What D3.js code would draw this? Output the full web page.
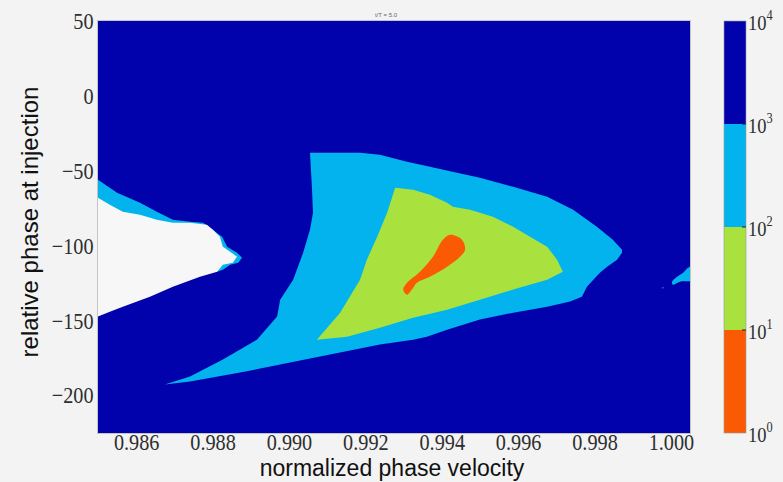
<!DOCTYPE html>
<html>
<head>
<meta charset="utf-8">
<script src="https://cdn.jsdelivr.net/npm/d3@7"></script>
<style>
  html, body { margin: 0; padding: 0; background: #f3f3f3; }
  svg { display: block; }
</style>
</head>
<body>
<svg id="chart" width="783" height="482"></svg>
<script>
// Axis ticks
const velocityTicks = [0.986, 0.988, 0.990, 0.992, 0.994, 0.996, 0.998, 1.000];
const phaseTicks = [50, 0, -50, -100, -150, -200];

// Colour levels of the filled contours (log scale)
const levels = [1, 10, 100, 1000, 10000];
const levelColors = ["#fb5a05", "#a9e23f", "#02b3ee", "#0202ad"];
const levelExponents = [0, 1, 2, 3, 4];

// Contour outlines, [normalized phase velocity, relative phase]
// 10^2..10^3 band (main lobe)
const band1000 = [
  [0.99055,-38],[0.99186,-38],[0.99238,-39.3],[0.99309,-44],[0.99369,-47.3],[0.9944,-51.3],
  [0.995,-54.7],[0.99587,-60.7],[0.99676,-67.3],[0.99744,-76],[0.99806,-87.3],[0.99848,-96],
  [0.99872,-102.7],[0.99872,-104.7],[0.99859,-109.3],[0.99833,-114],[0.99814,-118],
  [0.9978,-127.3],[0.99767,-134],[0.99736,-137.3],[0.99676,-140.7],[0.99587,-144.7],
  [0.995,-149.3],[0.99414,-156],[0.99361,-160.7],[0.99325,-162.7],[0.99238,-166],
  [0.99003,-178],[0.98872,-184.7],[0.98741,-190.7],[0.98675,-192.7],
  [0.98741,-187.3],[0.98827,-176],[0.98916,-162.7],[0.98969,-147.3],[0.98977,-136],
  [0.99011,-122.7],[0.99037,-104.7],[0.99055,-89.3],[0.99063,-78],[0.9906,-60.7]
];
// 10^2..10^3 band, thin rim along the empty region at the left edge
const band1000Rim = [
  [0.985,-56],[0.9855,-64.7],[0.9861,-71.3],[0.98654,-77.3],[0.98696,-82.7],[0.98741,-84],
  [0.98775,-84.7],[0.98793,-88],[0.98825,-94],[0.98838,-100.7],[0.98864,-104.7],
  [0.98877,-108],[0.98867,-111.3],[0.98846,-112.7],[0.98827,-116],[0.98812,-117.3],
  [0.987,-110],[0.985,-110]
];
// 10^2..10^3 band, small patch at the right edge
const band1000Edge = [
  [1.00003,-124],[1.00016,-120.7],[1.00032,-118],[1.00045,-114.7],[1.0006,-113],
  [1.0006,-122.7],[1.00024,-124],[1.00005,-126]
];
const band1000Dot = [[0.99979,-127.6],[0.99982,-128.4],[0.99976,-128.4]];
// 10^1..10^2 band
const band100 = [
  [0.99278,-61.3],[0.99325,-62.7],[0.99369,-66],[0.99414,-71.3],[0.99429,-74],[0.99474,-76],
  [0.99534,-80.7],[0.99587,-87.3],[0.99631,-94],[0.99676,-100.7],[0.99702,-109.3],
  [0.99717,-117.3],[0.99676,-122.7],[0.99587,-129.3],[0.995,-136],[0.99414,-142.7],
  [0.99325,-148],[0.99238,-154.7],[0.99152,-160.7],[0.99073,-162.7],
  [0.99134,-144.7],[0.99186,-122.7],[0.99204,-109.3],[0.99231,-94],[0.99257,-78]
];
// 10^0..10^1 band
const band10 = [
  [0.99422,-92.7],[0.99453,-96],[0.99461,-102.7],[0.99448,-107.3],[0.99414,-114],
  [0.99369,-120.7],[0.99335,-124.7],[0.99322,-129.3],[0.99309,-132.7],[0.99299,-129.3],
  [0.99309,-124.7],[0.99343,-117.3],[0.99377,-107.3],[0.99403,-96]
];
// Region without data (left edge)
const emptyRegion = [
  [0.985,-68],[0.98531,-72.7],[0.98565,-77.3],[0.9861,-79.3],[0.98654,-82.7],[0.98696,-84.7],
  [0.98741,-84.7],[0.98785,-86],[0.98801,-89.3],[0.98819,-94],[0.98827,-100.7],
  [0.98846,-104],[0.98864,-107.3],[0.98853,-111.3],[0.98827,-112.7],[0.98812,-117.3],
  [0.98767,-120.7],[0.98696,-127.3],[0.98636,-134],[0.98565,-140.7],[0.98531,-144],
  [0.985,-147.3],[0.9848,-147.3],[0.9848,-68]
];

const svg = d3.select("#chart");
const W = 783, H = 482;
const plot = { left: 98, right: 690, top: 21, bottom: 433 };
const serif = "Liberation Serif, DejaVu Serif, serif";
const sans = "Liberation Sans, Arial, sans-serif";

const x = d3.scaleLinear().domain([0.985, 1.0005]).range([plot.left, plot.right]);
const y = d3.scaleLinear().domain([-225, 50]).range([plot.bottom, plot.top]);

svg.append("rect").attr("width", W).attr("height", H).attr("fill", "#f3f3f3");

svg.append("defs").append("clipPath").attr("id", "plotClip")
  .append("rect")
  .attr("x", plot.left).attr("y", plot.top)
  .attr("width", plot.right - plot.left).attr("height", plot.bottom - plot.top);

const g = svg.append("g").attr("clip-path", "url(#plotClip)");

// Everything not enclosed below lies in the 10^3..10^4 band
g.append("rect")
  .attr("x", x(x.domain()[0])).attr("y", y(y.domain()[1]))
  .attr("width", x(x.domain()[1]) - x(x.domain()[0]))
  .attr("height", y(y.domain()[0]) - y(y.domain()[1]))
  .attr("fill", levelColors[3]);

const lineLin = d3.line().x(d => x(d[0])).y(d => y(d[1])).curve(d3.curveLinearClosed);
const lineSmooth = d3.line().x(d => x(d[0])).y(d => y(d[1])).curve(d3.curveCatmullRomClosed.alpha(0.5));

g.append("path").attr("d", lineLin(band1000)).attr("fill", levelColors[2]);
g.append("path").attr("d", lineLin(band1000Rim)).attr("fill", levelColors[2]);
g.append("path").attr("d", lineSmooth(band1000Edge)).attr("fill", levelColors[2]);
g.append("path").attr("d", lineLin(band1000Dot)).attr("fill", levelColors[2]);
g.append("path").attr("d", lineLin(band100)).attr("fill", levelColors[1]);
g.append("path").attr("d", lineSmooth(band10)).attr("fill", levelColors[0]);
g.append("path").attr("d", lineLin(emptyRegion)).attr("fill", "#f7f7f7");

// Frame
svg.append("rect")
  .attr("x", plot.left - 0.5).attr("y", plot.top - 0.5)
  .attr("width", plot.right - plot.left + 1).attr("height", plot.bottom - plot.top + 1)
  .attr("fill", "none").attr("stroke", "#c4c4c4").attr("stroke-width", 1);

// Axes (narrow serif numerals)
const squeeze = "scale(0.88,1)";
const xAxis = d3.axisBottom(x).tickValues(velocityTicks).tickSize(0).tickPadding(1)
  .tickFormat(d3.format(".3f"));
const xg = svg.append("g").attr("transform", `translate(0,${plot.bottom})`).call(xAxis);
xg.attr("font-family", serif);
xg.select(".domain").remove();
xg.selectAll("text").attr("font-family", serif).attr("font-size", 23)
  .attr("fill", "#2e2e2e").attr("transform", squeeze);

const yAxis = d3.axisLeft(y).tickValues(phaseTicks).tickSize(0).tickPadding(5)
  .tickFormat(d3.format("d"));
const yg = svg.append("g").attr("transform", `translate(${plot.left},0)`).call(yAxis);
yg.attr("font-family", serif);
yg.select(".domain").remove();
yg.selectAll("text").attr("font-family", serif).attr("font-size", 23)
  .attr("fill", "#2e2e2e").attr("transform", squeeze);

// Axis titles
svg.append("text")
  .attr("x", 392).attr("y", 476)
  .attr("text-anchor", "middle")
  .attr("font-family", sans)
  .attr("font-size", 23).attr("fill", "#111")
  .text("normalized phase velocity");

svg.append("text")
  .attr("transform", "translate(30,222) rotate(-90)")
  .attr("text-anchor", "middle")
  .attr("dy", "0.35em")
  .attr("font-family", sans)
  .attr("font-size", 24).attr("fill", "#111")
  .text("relative phase at injection");

// Small title
svg.append("text")
  .attr("x", 386).attr("y", 17)
  .attr("text-anchor", "middle")
  .attr("font-family", sans)
  .attr("font-size", 6).attr("fill", "#666")
  .text("t/T = 5.0");

// Colour bar
const cb = { x: 724, w: 22 };
const c = d3.scaleLog().domain([levels[0], levels[levels.length - 1]]).range([plot.bottom, plot.top]);
const cbg = svg.append("g");
for (let i = 0; i < levelColors.length; i++) {
  cbg.append("rect")
    .attr("x", cb.x)
    .attr("y", c(levels[i + 1]))
    .attr("width", cb.w)
    .attr("height", c(levels[i]) - c(levels[i + 1]))
    .attr("fill", levelColors[i]);
}
cbg.append("rect")
  .attr("x", cb.x).attr("y", c(levels[levels.length - 1]))
  .attr("width", cb.w).attr("height", c(levels[0]) - c(levels[levels.length - 1]))
  .attr("fill", "none").attr("stroke", "#9a9a9a").attr("stroke-width", 0.6);

levels.forEach((lv, i) => {
  const yy = c(lv);
  if (i > 0 && i < levels.length - 1) {
    cbg.append("line")
      .attr("x1", cb.x + cb.w - 4).attr("x2", cb.x + cb.w)
      .attr("y1", yy).attr("y2", yy)
      .attr("stroke", "#222").attr("stroke-width", 1);
  }
  const t = cbg.append("text")
    .attr("transform", `translate(${cb.x + cb.w + 2},${yy + 9}) scale(0.88,1)`)
    .attr("font-family", serif)
    .attr("font-size", 21).attr("fill", "#2e2e2e");
  t.append("tspan").text("10");
  t.append("tspan").attr("dy", -10).attr("font-size", 14).text(levelExponents[i]);
});
</script>
</body>
</html>
